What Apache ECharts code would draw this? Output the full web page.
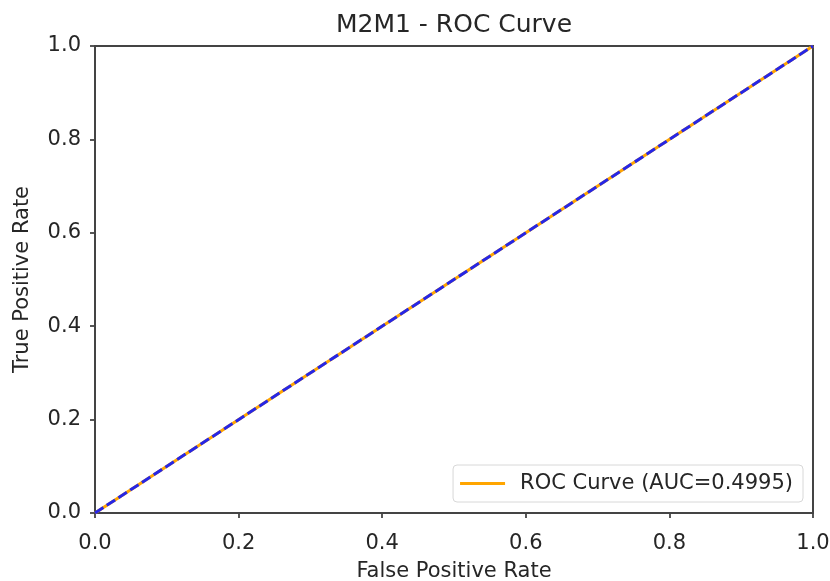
<!DOCTYPE html>
<html>
<head>
<meta charset="utf-8">
<script src="https://cdn.jsdelivr.net/npm/echarts@6/dist/echarts.min.js"></script>
<style>
  html, body { margin: 0; padding: 0; background: #fff; }
  #chart-div { width: 830px; height: 581px; }
</style>
</head>
<body>
<div id="chart-div"></div>
<script>
// ROC points
const fpr = [0.0, 1.0];
const tpr = [0.0, 1.0];
// chance diagonal
const diagX = [0.0, 1.0];
const diagY = [0.0, 1.0];
const ticks = [0.0, 0.2, 0.4, 0.6, 0.8, 1.0];
const rocName = 'ROC Curve (AUC=0.4995)';

const font = 'DejaVu Sans';
const textColor = '#262626';
const spineColor = '#444';

var myChart = echarts.init(document.getElementById('chart-div'));

const axisBase = {
  type: 'value',
  min: ticks[0],
  max: ticks[ticks.length - 1],
  interval: 0.2,
  nameLocation: 'middle',
  nameTextStyle: { fontFamily: font, fontSize: 21, color: textColor },
  axisLine: { show: true, lineStyle: { color: spineColor, width: 2 } },
  axisTick: { show: true, inside: false, length: 5, lineStyle: { color: spineColor, width: 1.8 } },
  axisLabel: {
    fontFamily: font,
    fontSize: 21,
    color: textColor,
    formatter: v => v.toFixed(1),
  },
  splitLine: { show: false },
};

myChart.setOption({
  backgroundColor: '#fff',
  animation: false,
  title: {
    text: 'M2M1 - ROC Curve',
    left: 449,
    top: 8,
    textAlign: 'center',
    textStyle: { fontFamily: font, fontSize: 25, fontWeight: 'normal', color: textColor },
  },
  grid: {
    left: 95,
    right: 17,
    top: 46,
    bottom: 68,
    outerBoundsMode: 'none',
    containLabel: false,
    show: true,
    borderColor: spineColor,
    borderWidth: 2,
  },
  xAxis: {
    ...axisBase,
    name: 'False Positive Rate',
    nameGap: 48,
    axisLabel: { ...axisBase.axisLabel, margin: 20 },
  },
  yAxis: {
    ...axisBase,
    name: 'True Positive Rate',
    nameGap: 62,
    axisLabel: { ...axisBase.axisLabel, margin: 14 },
  },
  legend: {
    right: 27,
    bottom: 79,
    data: [rocName],
    icon: 'rect',
    backgroundColor: '#fff',
    borderColor: '#d8d8d8',
    borderWidth: 1,
    borderRadius: 4,
    padding: [8, 10, 8, 7],
    itemWidth: 45,
    itemHeight: 3,
    textStyle: { fontFamily: font, fontSize: 21, color: textColor, padding: [0, 0, 0, 10] },
  },
  series: [
    {
      name: rocName,
      type: 'line',
      data: fpr.map((x, i) => [x, tpr[i]]),
      symbol: 'none',
      itemStyle: { color: '#ffa500' },
      lineStyle: { color: '#ffa500', width: 3 },
    },
    {
      name: 'diag',
      type: 'line',
      data: diagX.map((x, i) => [x, diagY[i]]),
      symbol: 'none',
      itemStyle: { color: '#0000ff' },
      lineStyle: { color: '#2626e6', width: 3, type: [10, 4] },
    },
  ],
});
</script>
</body>
</html>
